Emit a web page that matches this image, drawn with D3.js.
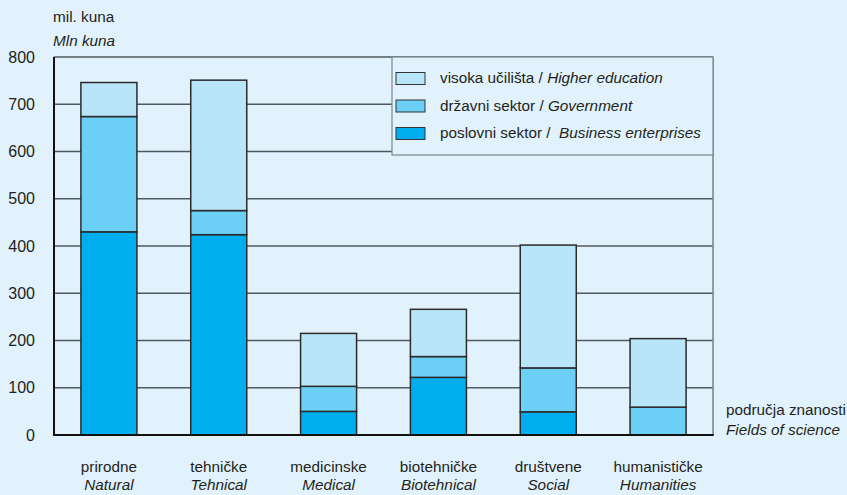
<!DOCTYPE html>
<html>
<head>
<meta charset="utf-8">
<script src="https://cdn.jsdelivr.net/npm/d3@7/dist/d3.min.js"></script>
<style>
  html, body { margin: 0; padding: 0; background: #e1f2fc; }
  svg { display: block; font-family: "Liberation Sans", Arial, sans-serif; }
</style>
</head>
<body>
<svg id="chart"></svg>
<script>
// data (mil. kuna)
const categories = ["prirodne", "tehničke", "medicinske", "biotehničke", "društvene", "humanističke"];
const categoriesEn = ["Natural", "Tehnical", "Medical", "Biotehnical", "Social", "Humanities"];
const business = [430, 424, 50, 122, 49, 0];
const government = [244, 51, 53, 44, 93, 59];
const higherEd = [72, 276, 112, 100, 260, 145];
const yTicks = [0, 100, 200, 300, 400, 500, 600, 700, 800];

const seriesKeys = ["business", "government", "higherEd"];
const seriesLabels = {
  higherEd: ["visoka učilišta / ", "Higher education"],
  government: ["državni sektor / ", "Government"],
  business: ["poslovni sektor /  ", "Business enterprises"]
};
const colors = {business: "#00aeef", government: "#6ccff6", higherEd: "#b9e5f9"};

const W = 847, H = 495;
const margin = {top: 57, right: 134, bottom: 60, left: 54};
const width = W - margin.left - margin.right,
    height = H - margin.top - margin.bottom;
const fs = 15.3;

const svg = d3.select("#chart").attr("width", W).attr("height", H);

const table = categories.map((c, i) => ({
  cat: c, business: business[i], government: government[i], higherEd: higherEd[i]
}));

const x = d3.scaleBand()
    .domain(categories)
    .range([0, width])
    .paddingInner(0.49)
    .paddingOuter(0.245);

const y = d3.scaleLinear()
    .domain([0, 800])
    .range([height, 0]);

const g = svg.append("g")
    .attr("transform", "translate(" + margin.left + "," + margin.top + ")");

// gridlines
g.append("g").selectAll("line").data(yTicks.filter(d => d > 0))
    .enter().append("line")
    .attr("x1", 0).attr("x2", width)
    .attr("y1", d => y(d)).attr("y2", d => y(d))
    .attr("stroke", "#4f585f").attr("stroke-width", 1.4);

// right border
g.append("line")
    .attr("x1", width).attr("x2", width)
    .attr("y1", 0).attr("y2", height)
    .attr("stroke", "#7d868e").attr("stroke-width", 1.6);

// legend box (covers gridlines)
const lg = g.append("g").attr("transform", "translate(" + (392 - margin.left) + ",0)");
lg.append("rect")
    .attr("x", 0).attr("y", 0)
    .attr("width", width - (392 - margin.left)).attr("height", 98)
    .attr("fill", "#e1f2fc").attr("stroke", "#7d868e").attr("stroke-width", 1.2);

["higherEd", "government", "business"].forEach((k, i) => {
  const row = lg.append("g").attr("transform", "translate(0," + (15.5 + i * 27.5) + ")");
  row.append("rect")
      .attr("x", 4).attr("y", 0).attr("width", 29).attr("height", 12)
      .attr("fill", colors[k]).attr("stroke", "#333").attr("stroke-width", 1);
  const t = row.append("text")
      .attr("x", 48).attr("y", 10.5)
      .attr("font-size", fs).attr("fill", "#231f20")
      .attr("xml:space", "preserve");
  t.append("tspan").text(seriesLabels[k][0]);
  t.append("tspan").attr("font-style", "italic").text(seriesLabels[k][1]);
});

// stacked bars
const stack = d3.stack().keys(seriesKeys)(table);

g.append("g").selectAll("g").data(stack)
    .enter().append("g")
    .attr("fill", d => colors[d.key])
    .selectAll("rect").data(d => d.filter(s => s[1] - s[0] > 0))
    .enter().append("rect")
    .attr("x", d => x(d.data.cat))
    .attr("width", x.bandwidth())
    .attr("y", d => y(d[1]))
    .attr("height", d => y(d[0]) - y(d[1]))
    .attr("stroke", "#2b2b2b")
    .attr("stroke-width", 1.5);

// axes
const yAxis = d3.axisLeft(y).tickValues(yTicks).tickSize(0).tickPadding(19);
const ya = g.append("g").call(yAxis);
ya.select(".domain").remove();
ya.selectAll("text").attr("font-size", 16).attr("fill", "#231f20")
    .attr("font-family", "Liberation Sans, Arial, sans-serif");

g.append("line")
    .attr("x1", 0).attr("x2", 0).attr("y1", 0).attr("y2", height + 1)
    .attr("stroke", "#111").attr("stroke-width", 2);
g.append("line")
    .attr("x1", -1).attr("x2", width + 0.75).attr("y1", height).attr("y2", height)
    .attr("stroke", "#111").attr("stroke-width", 2);

const xAxis = d3.axisBottom(x).tickSize(0).tickFormat("");
const xa = g.append("g").attr("transform", "translate(0," + height + ")").call(xAxis);
xa.select(".domain").remove();
xa.selectAll(".tick").each(function(d, i) {
  const t = d3.select(this);
  t.append("text").attr("y", 37).attr("text-anchor", "middle")
      .attr("font-size", fs).attr("fill", "#231f20").text(d);
  t.append("text").attr("y", 55).attr("text-anchor", "middle")
      .attr("font-size", fs).attr("font-style", "italic").attr("fill", "#231f20")
      .text(categoriesEn[i]);
});

// axis titles
svg.append("text").attr("x", 53).attr("y", 22)
    .attr("font-size", fs).attr("fill", "#231f20").text("mil. kuna");
svg.append("text").attr("x", 53).attr("y", 46)
    .attr("font-size", fs).attr("font-style", "italic").attr("fill", "#231f20").text("Mln kuna");

svg.append("text").attr("x", 726).attr("y", 415)
    .attr("font-size", fs).attr("fill", "#231f20").text("područja znanosti");
svg.append("text").attr("x", 726).attr("y", 435)
    .attr("font-size", fs).attr("font-style", "italic").attr("fill", "#231f20").text("Fields of science");
</script>
</body>
</html>
